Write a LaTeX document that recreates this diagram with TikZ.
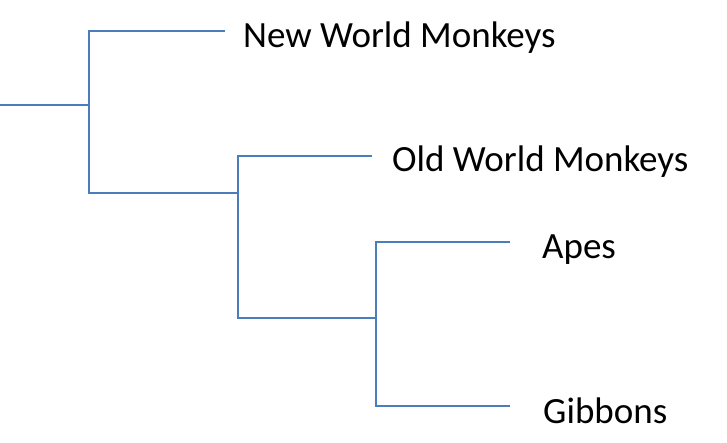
\documentclass[tikz,border=0pt]{standalone}
\usepackage{fontspec}
\setmainfont{Carlito}
\definecolor{br}{HTML}{4A7EBB}
\begin{document}
\begin{tikzpicture}[x=1pt,y=-1pt,
  branch/.style={draw=br,line width=1.8pt},
  lab/.style={anchor=west,inner sep=0pt,font=\fontsize{37}{37}\selectfont}]
\useasboundingbox (0,0) rectangle (727,442);
\coordinate (r) at (0,105);
\coordinate (a) at (89,105);
\coordinate (a1) at (89,31);
\coordinate (a2) at (89,193);
\coordinate (t1) at (225,31);
\coordinate (b) at (238,193);
\coordinate (b1) at (238,156);
\coordinate (b2) at (238,318);
\coordinate (t2) at (372,156);
\coordinate (c) at (376,318);
\coordinate (c1) at (376,242);
\coordinate (c2) at (376,406);
\coordinate (t3) at (510,242);
\coordinate (t4) at (510,406);
\draw[branch] (r) -- (a);
\draw[branch] (t1) -- (a1) -- (a2) -- (b);
\draw[branch] (t2) -- (b1) -- (b2) -- (c);
\draw[branch] (t3) -- (c1) -- (c2) -- (t4);
\node[lab] (n1) at (243,38) {New World Monkeys};
\node[lab] (n2) at (392,162) {Old World Monkeys};
\node[lab] (n3) at (542,250) {Apes};
\node[lab] (n4) at (543,411) {Gibbons};
\end{tikzpicture}
\end{document}
